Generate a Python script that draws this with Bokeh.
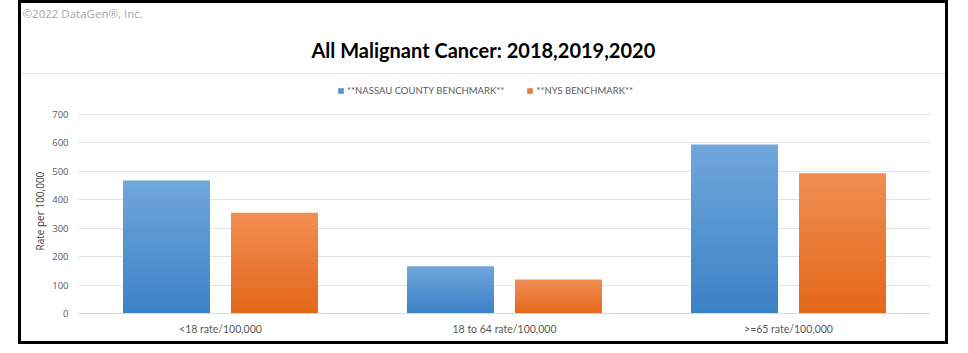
from bokeh.plotting import figure
from bokeh.models import (FactorRange, Range1d, FixedTicker, ColumnDataSource, Legend,
                          LegendItem, Title)
from bokeh.transform import dodge
from bokeh.embed import file_html
from bokeh.resources import INLINE

categories = ["<18 rate/100,000", "18 to 64 rate/100,000", ">=65 rate/100,000"]
nassau = [467, 166, 593]
nys = [354, 119, 492]
series_names = ["**NASSAU COUNTY BENCHMARK**", "**NYS BENCHMARK**"]
y_ticks = [0, 100, 200, 300, 400, 500, 600, 700]
title_text = "All Malignant Cancer: 2018,2019,2020"
copyright_text = "\u00a92022 DataGen\u00ae, Inc."
y_label = "Rate per 100,000"

p = figure(width=924, height=338, x_range=FactorRange(factors=categories),
           y_range=Range1d(0, 825), output_backend="svg", toolbar_location=None,
           min_border_left=57, min_border_right=15, min_border_top=75,
           min_border_bottom=28, background_fill_color="white",
           border_fill_alpha=0, margin=(3, 0, 0, 21),
           styles={"outline": "3px solid black",
                   "background": "linear-gradient(to bottom, #ffffff 0px, #ffffff 70px, "
                                 "#e2e2e2 70px, #e2e2e2 71px, #ffffff 71px)"})
p.outline_line_color = None

# outermost title: copyright; nearest the frame: main title
p.title.text = copyright_text
p.title.align = "left"
p.title.offset = -56
p.title.vertical_align = "middle"
p.title.standoff = 0
p.title.text_font = "Open Sans"
p.title.text_font_size = "11.5px"
p.title.text_font_style = "normal"
p.title.text_color = "#a6a6a6"
p.add_layout(Title(text=title_text, align="left", offset=233, vertical_align="middle",
                   text_font="Lato", text_font_size="20px", text_font_style="bold",
                   text_color="#000000", standoff=31), "above")


def hex2rgb(h):
    h = h.lstrip("#")
    return tuple(int(h[i:i + 2], 16) for i in (0, 2, 4))


def mix(c1, c2, t):
    a, b = hex2rgb(c1), hex2rgb(c2)
    return "#%02x%02x%02x" % tuple(int(round(a[i] + (b[i] - a[i]) * t)) for i in range(3))


N = 24
gradients = [("#6fa6dc", "#3d82c6"), ("#f28d52", "#e3681b")]
offsets = [-0.19, 0.19]
width = 0.306
legend_renderers = []
for s, (vals, (ctop, cbot), off) in enumerate(zip([nassau, nys], gradients, offsets)):
    mid = None
    for k in range(N):
        frac = 1 - k / N
        src = ColumnDataSource(dict(cat=categories, top=[v * frac for v in vals]))
        col = mix(ctop, cbot, k / (N - 1))
        r = p.vbar(x=dodge("cat", off, range=p.x_range), top="top", bottom=0, width=width,
                   source=src, fill_color=col, line_color=None)
        if k == N // 2:
            mid = r
    legend_renderers.append(mid)

legend = Legend(items=[LegendItem(label=series_names[i], renderers=[legend_renderers[i]])
                       for i in range(2)],
                location=(259, 217), orientation="horizontal",
                glyph_width=7, glyph_height=7, spacing=22, padding=0, margin=0,
                label_height=12, label_text_font="Lato", label_text_font_size="9.5px",
                label_text_color="#595959", label_standoff=3, label_text_baseline="middle",
                border_line_color=None, background_fill_alpha=0)
p.add_layout(legend)

p.yaxis.ticker = FixedTicker(ticks=y_ticks)
p.ygrid.ticker = FixedTicker(ticks=y_ticks)
p.xgrid.grid_line_color = None
p.ygrid.grid_line_color = "#e3e3e3"
p.ygrid.grid_line_width = 1

p.yaxis.axis_line_color = None
p.yaxis.major_tick_line_color = None
p.yaxis.minor_tick_line_color = None
p.yaxis.major_tick_out = 0
p.yaxis.minor_tick_out = 0
p.yaxis.major_label_text_font = "Open Sans"
p.yaxis.major_label_text_font_size = "9.5px"
p.yaxis.major_label_text_color = "#595959"
p.yaxis.major_label_standoff = 10

# y-axis title, centred on the 0-700 span like the reference
p.add_layout(Title(text=y_label, align="left", offset=63, vertical_align="middle",
                   text_font="Open Sans", text_font_size="10px", text_font_style="normal",
                   text_color="#404040", standoff=4), "left")

p.xaxis.axis_line_color = "#d9d9d9"
p.xaxis.major_tick_line_color = None
p.xaxis.minor_tick_line_color = None
p.xaxis.major_label_text_font = "Lato"
p.xaxis.major_label_text_font_size = "10.5px"
p.xaxis.major_label_text_color = "#595959"
p.xaxis.major_label_standoff = 3

open("out.html", "w").write(file_html(p, INLINE))
